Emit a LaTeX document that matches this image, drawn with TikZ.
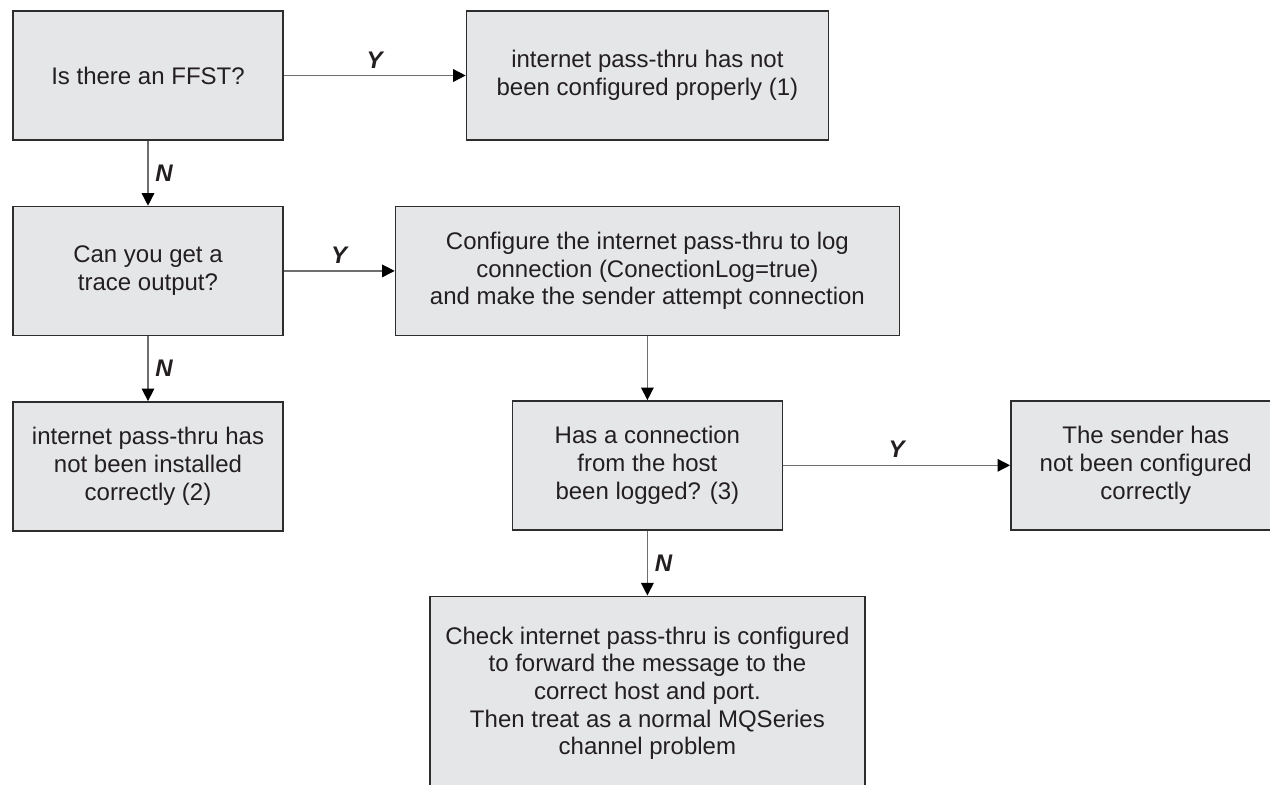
\documentclass[tikz,border=0pt]{standalone}
\usepackage{fontspec}
\setmainfont{Liberation Sans}
\usetikzlibrary{positioning,arrows.meta}

\definecolor{boxfill}{RGB}{229,230,232}
\definecolor{boxline}{RGB}{45,45,45}
\definecolor{flowline}{RGB}{110,110,110}
\definecolor{txt}{RGB}{35,31,32}

\begin{document}
\begin{tikzpicture}[
	font=\fontsize{12}{13.85}\selectfont,
	text=txt,
	box/.style={
		draw=boxline,
		fill=boxfill,
		line width=0.7pt,
		align=center,
		inner sep=0pt,
		minimum width=135pt,
		minimum height=64.5pt
	},
	flow/.style={
		draw=flowline,
		line width=0.7pt,
		-{Triangle[length=6.3pt,width=6.3pt,color=black,fill=black]}
	},
	yn/.style={font=\fontsize{12}{13.85}\selectfont\bfseries\itshape},
	node distance=32.5pt and 91pt,
	]

	\useasboundingbox (0,0) rectangle (635pt,-392pt);
	\clip (0,0) rectangle (635pt,-392pt);

	\node[box] (ffst) at (74pt,-37.75pt) {Is there an FFST?};
	\node[box, right=of ffst, minimum width=181pt] (notcfg) {internet pass-thru has not\\been configured properly (1)};

	\node[box, below=of ffst] (trace) {Can you get a\\trace output?};
	\node[box, right=55.5pt of trace, minimum width=252pt] (logcfg) {Configure the internet pass-thru to log\\connection (ConectionLog=true)\\and make the sender attempt connection};

	\node[box, below=of trace] (notinst) {internet pass-thru has\\not been installed\\correctly (2)};
	\node[box, below=32pt of logcfg] (logged) {Has a connection\\from the host\\been logged? (3)};
	\node[box, right=113.5pt of logged] (sender) {The sender has\\not been configured\\correctly};

	\node[box, below=of logged, minimum width=217.5pt, minimum height=97pt] (check) {Check internet pass-thru is configured\\to forward the message to the\\correct host and port.\\Then treat as a normal MQSeries\\channel problem};

	\draw[flow] (ffst) -- node[above, yn] {Y} (notcfg);
	\draw[flow] (ffst) -- node[right, yn] {N} (trace);
	\draw[flow] (trace) -- node[above, yn] {Y} (logcfg);
	\draw[flow] (trace) -- node[right, yn] {N} (notinst);
	\draw[flow] (logcfg) -- (logged);
	\draw[flow] (logged) -- node[above, yn] {Y} (sender);
	\draw[flow] (logged) -- node[right, yn] {N} (check);

\end{tikzpicture}
\end{document}
